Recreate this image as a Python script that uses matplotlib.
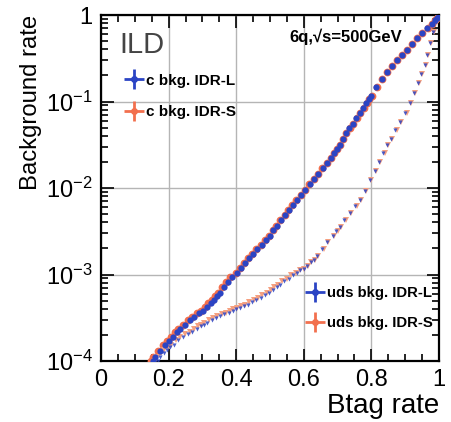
import matplotlib
matplotlib.use('Agg')
import matplotlib.pyplot as plt
from matplotlib.lines import Line2D
from matplotlib.ticker import MultipleLocator, LogLocator, NullFormatter

plt.rcParams['font.family'] = ['Liberation Sans', 'DejaVu Sans']
plt.rcParams['mathtext.fontset'] = 'custom'
plt.rcParams['mathtext.rm'] = 'Liberation Sans'
plt.rcParams['mathtext.default'] = 'regular'

# background rate vs btag rate
c_y = [1.00e-4, 1.12e-4, 1.32e-4, 1.55e-4, 1.70e-4, 1.91e-4, 2.14e-4, 2.34e-4, 2.63e-4, 2.95e-4,
       3.24e-4, 3.55e-4, 3.80e-4, 4.17e-4, 4.68e-4, 5.13e-4, 5.62e-4, 6.17e-4, 7.08e-4, 8.13e-4,
       9.33e-4, 1.05e-3, 1.20e-3, 1.35e-3, 1.55e-3, 1.74e-3, 1.95e-3, 2.19e-3, 2.51e-3, 2.82e-3,
       3.24e-3, 3.63e-3, 4.27e-3, 4.90e-3, 5.62e-3, 6.31e-3, 7.24e-3, 8.32e-3, 9.55e-3, 1.10e-2,
       1.26e-2, 1.45e-2, 1.70e-2, 1.95e-2, 2.24e-2, 2.51e-2, 2.82e-2, 3.16e-2, 3.72e-2, 4.27e-2,
       4.90e-2, 5.50e-2, 6.46e-2, 7.41e-2, 8.51e-2, 9.55e-2, 0.107, 0.117,
       0.148, 0.182, 0.219, 0.257, 0.302, 0.347, 0.398, 0.468, 0.537, 0.617,
       0.708, 0.794, 0.871, 0.933, 1.0]
c_L_x = [0.155, 0.160, 0.175, 0.190, 0.201, 0.213, 0.224, 0.235, 0.249, 0.263,
         0.276, 0.290, 0.302, 0.314, 0.324, 0.335, 0.343, 0.352, 0.363, 0.375,
         0.388, 0.402, 0.413, 0.425, 0.437, 0.450, 0.462, 0.475, 0.487, 0.500,
         0.510, 0.521, 0.533, 0.545, 0.556, 0.568, 0.580, 0.593, 0.605, 0.618,
         0.630, 0.643, 0.656, 0.669, 0.680, 0.690, 0.698, 0.707, 0.716, 0.725,
         0.735, 0.745, 0.755, 0.766, 0.776, 0.785, 0.792, 0.800,
         0.815, 0.830, 0.845, 0.860, 0.875, 0.890, 0.905, 0.920, 0.935, 0.950,
         0.965, 0.978, 0.988, 0.995, 1.0]
c_S_x = [0.149, 0.154, 0.169, 0.184, 0.195, 0.207, 0.218, 0.229, 0.243, 0.257,
         0.270, 0.284, 0.296, 0.308, 0.318, 0.329, 0.337, 0.346, 0.357, 0.369,
         0.383, 0.399, 0.410, 0.422, 0.434, 0.447, 0.459, 0.472, 0.484, 0.497,
         0.508, 0.519, 0.531, 0.543, 0.554, 0.566, 0.578, 0.591, 0.603, 0.616,
         0.629, 0.642, 0.655, 0.668, 0.680, 0.690, 0.698, 0.707, 0.717, 0.726,
         0.736, 0.746, 0.756, 0.767, 0.777, 0.786, 0.793, 0.801,
         0.816, 0.831, 0.846, 0.861, 0.876, 0.891, 0.906, 0.921, 0.936, 0.951,
         0.966, 0.978, 0.988, 0.995, 1.0]

uds_y = [1.00e-4, 1.10e-4, 1.23e-4, 1.35e-4, 1.45e-4, 1.55e-4, 1.74e-4, 1.91e-4, 2.04e-4, 2.19e-4,
         2.34e-4, 2.51e-4, 2.63e-4, 2.75e-4, 2.95e-4, 3.16e-4, 3.31e-4, 3.47e-4, 3.63e-4, 3.80e-4,
         3.98e-4, 4.07e-4, 4.27e-4, 4.47e-4, 4.79e-4, 5.01e-4, 5.37e-4, 5.75e-4, 6.17e-4, 6.61e-4,
         7.08e-4, 7.59e-4, 8.32e-4, 8.91e-4, 9.77e-4, 1.05e-3, 1.12e-3, 1.17e-3, 1.26e-3, 1.38e-3,
         1.48e-3, 1.62e-3, 1.95e-3, 2.40e-3, 2.82e-3, 3.16e-3, 3.55e-3, 4.27e-3, 5.13e-3, 6.17e-3,
         7.24e-3, 9.33e-3, 1.23e-2, 1.58e-2, 2.00e-2, 2.51e-2, 3.16e-2, 3.72e-2, 4.68e-2, 5.75e-2,
         7.41e-2, 9.55e-2, 0.126, 0.162, 0.209, 0.263, 0.347, 0.479, 0.631, 0.832,
         1.0]
uds_L_x = [0.170, 0.175, 0.185, 0.195, 0.205, 0.215, 0.229, 0.243, 0.256, 0.270,
           0.283, 0.295, 0.304, 0.314, 0.327, 0.340, 0.352, 0.365, 0.378, 0.390,
           0.400, 0.411, 0.423, 0.435, 0.447, 0.460, 0.472, 0.485, 0.497, 0.509,
           0.520, 0.530, 0.542, 0.555, 0.567, 0.580, 0.590, 0.600, 0.610, 0.620,
           0.630, 0.640, 0.655, 0.669, 0.685, 0.696, 0.707, 0.720, 0.737, 0.752,
           0.766, 0.780, 0.796, 0.810, 0.822, 0.835, 0.846, 0.858, 0.871, 0.885,
           0.900, 0.914, 0.926, 0.938, 0.948, 0.959, 0.964, 0.973, 0.982, 0.992,
           1.0]
uds_S_x = [0.160, 0.166, 0.177, 0.187, 0.197, 0.207, 0.221, 0.235, 0.248, 0.262,
           0.275, 0.287, 0.296, 0.306, 0.319, 0.332, 0.344, 0.357, 0.370, 0.382,
           0.392, 0.403, 0.415, 0.427, 0.439, 0.452, 0.464, 0.477, 0.490, 0.502,
           0.513, 0.524, 0.536, 0.550, 0.563, 0.577, 0.588, 0.600, 0.611, 0.622,
           0.633, 0.643, 0.659, 0.673, 0.689, 0.700, 0.711, 0.724, 0.741, 0.756,
           0.770, 0.784, 0.800, 0.814, 0.826, 0.839, 0.850, 0.862, 0.875, 0.889,
           0.904, 0.917, 0.929, 0.941, 0.951, 0.962, 0.967, 0.975, 0.984, 0.993,
           1.0]

y_ticks = [1e-4, 1e-3, 1e-2, 1e-1, 1]
y_tick_labels = ['$10^{-4}$', '$10^{-3}$', '$10^{-2}$', '$10^{-1}$', '1']
x_ticks = [0, 0.2, 0.4, 0.6, 0.8, 1]
x_tick_labels = ['0', '0.2', '0.4', '0.6', '0.8', '1']

blue = '#2b44c4'
orange = '#f2704e'
orange_light = '#f5a080'

fig = plt.figure(figsize=(4.52, 4.22), dpi=100)
ax = fig.add_axes([101 / 452, 1 - 361 / 422, 338 / 452, 346 / 422])

ax.plot(c_S_x, c_y, 'o', color=orange, ms=5.6, mew=0, zorder=3)
ax.plot(c_L_x, c_y, 'o', color=blue, ms=4.5, mew=0, zorder=4)
ax.plot(uds_S_x, uds_y, 'v', color=orange_light, ms=4.3, mew=0, zorder=3)
ax.plot(uds_L_x, uds_y, 'v', color=blue, ms=3.0, mew=0, zorder=4, alpha=0.85)

ax.set_yscale('log')
ax.set_xlim(0, 1)
ax.set_ylim(1e-4, 1)
ax.set_xticks(x_ticks)
ax.set_xticklabels(x_tick_labels)
ax.set_yticks(y_ticks)
ax.set_yticklabels(y_tick_labels)
ax.xaxis.set_minor_locator(MultipleLocator(0.05))
ax.yaxis.set_minor_locator(LogLocator(base=10, subs=range(2, 10)))
ax.yaxis.set_minor_formatter(NullFormatter())

ax.tick_params(which='both', direction='in', top=True, right=True, width=1.2)
ax.tick_params(which='major', length=9, labelsize=17, pad=6)
ax.tick_params(which='minor', length=5)
for s in ax.spines.values():
    s.set_linewidth(1.6)

ax.grid(True, which='major', color='#b5b5b5', lw=1.0)
ax.set_axisbelow(True)

ax.set_ylabel('Background rate', fontsize=17.2, loc='top', labelpad=3)
ax.set_xlabel('Btag rate', fontsize=20, loc='right', labelpad=1)

ax.text(0.055, 0.955, 'ILD', transform=ax.transAxes, fontsize=21, color='#444444',
        va='top', ha='left')
ax.text(0.89, 0.936, '6q,√s=500GeV', transform=ax.transAxes, fontsize=12,
        fontweight='bold', va='center', ha='right')

def cross(col):
    return (Line2D([], [], marker='+', color=col, ms=15, mew=2.0, ls='none'),
            Line2D([], [], marker='o', color=col, ms=4, ls='none'))

leg1 = ax.legend([cross(blue), cross(orange)], ['c bkg. IDR-L', 'c bkg. IDR-S'],
                 loc='upper left', bbox_to_anchor=(0.03, 0.87), frameon=False,
                 prop={'weight': 'bold', 'size': 11}, handlelength=1.2,
                 handletextpad=0.2, labelspacing=1.15)
ax.add_artist(leg1)
ax.legend([cross(blue), cross(orange)], ['uds bkg. IDR-L', 'uds bkg. IDR-S'],
          loc='lower right', bbox_to_anchor=(1.02, 0.05), frameon=False,
          prop={'weight': 'bold', 'size': 10.7}, handlelength=1.2,
          handletextpad=0.2, labelspacing=1.1)

plt.savefig('out.png', dpi=100)
